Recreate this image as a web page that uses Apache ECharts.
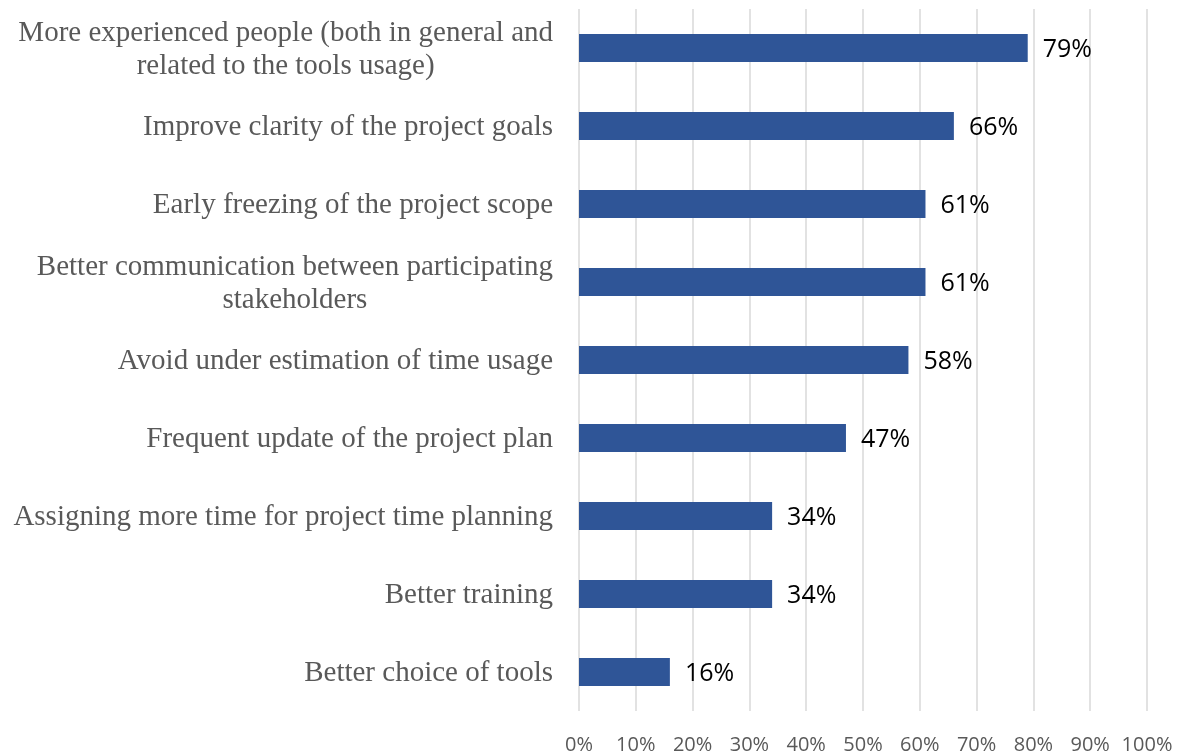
<!DOCTYPE html>
<html>
<head>
<meta charset="utf-8">
<script src="https://cdn.jsdelivr.net/npm/echarts@6/dist/echarts.min.js"></script>
<style>
  html, body { margin: 0; padding: 0; background: #fff; }
  #chart { width: 1179px; height: 756px; }
</style>
</head>
<body>
<div id="chart"></div>
<script>
// top to bottom, as in the picture
var categories = [
  "More experienced people (both in general and\nrelated to the tools usage)",
  "Improve clarity of the project goals",
  "Early freezing of the project scope",
  "Better communication between participating\nstakeholders",
  "Avoid under estimation of time usage",
  "Frequent update of the project plan",
  "Assigning more time for project time planning",
  "Better training",
  "Better choice of tools"
];
var values = [79, 66, 61, 61, 58, 47, 34, 34, 16];
var tickMin = 0, tickMax = 100, tickStep = 10;

var chart = echarts.init(document.getElementById("chart"));

var option = {
  animation: false,
  grid: { left: 579, right: 32, top: 9, bottom: 45 },
  xAxis: {
    type: "value",
    min: tickMin,
    max: tickMax,
    interval: tickStep,
    axisLine: { show: false },
    axisTick: { show: false },
    splitLine: { show: true, lineStyle: { color: "#d9d9d9", width: 1.5 } },
    axisLabel: {
      formatter: "{value}%",
      color: "#595959",
      fontFamily: "Open Sans",
      fontSize: 20,
      margin: 24
    }
  },
  yAxis: {
    type: "category",
    data: categories,
    inverse: true,
    axisLine: { show: false },
    axisTick: { show: false },
    axisLabel: {
      margin: 26,
      align: "right",
      formatter: function (v) {
        // center each line inside the label block
        return v.split("\n").map(function (s) { return "{c|" + s + "}"; }).join("\n");
      },
      rich: {
        c: {
          align: "center",
          color: "#595959",
          fontFamily: "Liberation Serif",
          fontSize: 29,
          lineHeight: 33,
          padding: [3, 0, 0, 0]
        }
      }
    }
  },
  series: [{
    type: "bar",
    data: values,
    barWidth: 28,
    itemStyle: { color: "#2f5597" },
    label: {
      show: true,
      position: "right",
      distance: 15,
      offset: [0, 2],
      formatter: "{c}%",
      color: "#000",
      fontFamily: "Open Sans",
      fontSize: 25
    }
  }]
};

chart.setOption(option);
</script>
</body>
</html>
